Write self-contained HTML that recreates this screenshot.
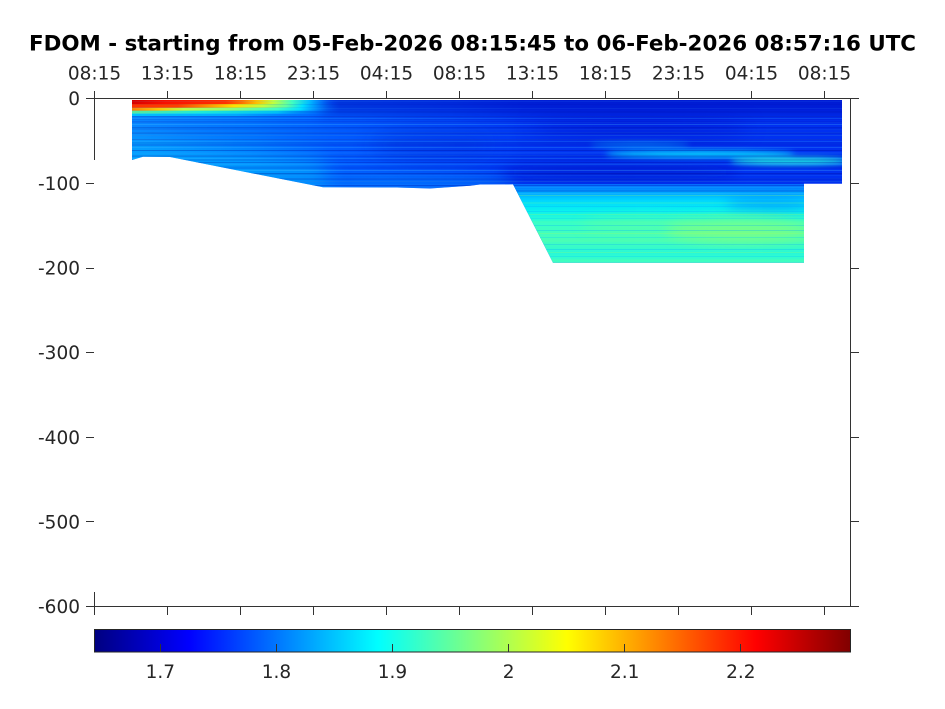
<!DOCTYPE html>
<html>
<head>
<meta charset="utf-8">
<style>
  html, body { margin: 0; padding: 0; background: #ffffff; }
  body { width: 945px; height: 709px; overflow: hidden; }
  svg { display: block; }
  text { font-family: "DejaVu Sans", "Liberation Sans", sans-serif; }
</style>
</head>
<body>
<svg width="945" height="709" viewBox="0 0 945 709" xmlns="http://www.w3.org/2000/svg">
  <defs>
    <clipPath id="dc">
      <polygon points="132,100 842,100 842,183.7 804,183.7 804,262.7 553,262.7 513,184.3 480,184.5 470,185.7 430,188.5 397,187.5 323,187.3 170,157 143,156.7 132,160"/>
    </clipPath>
    <filter id="b3" filterUnits="userSpaceOnUse" x="0" y="0" width="945" height="400"><feGaussianBlur stdDeviation="3"/></filter>
    <filter id="b6" filterUnits="userSpaceOnUse" x="0" y="0" width="945" height="400"><feGaussianBlur stdDeviation="6"/></filter>
    <filter id="b10" filterUnits="userSpaceOnUse" x="0" y="0" width="945" height="400"><feGaussianBlur stdDeviation="10"/></filter>

    <linearGradient id="gBase" gradientUnits="userSpaceOnUse" x1="132" y1="0" x2="842" y2="0">
      <stop offset="0" stop-color="#0a84ff"/>
      <stop offset="0.17" stop-color="#0072ff"/>
      <stop offset="0.28" stop-color="#005cff"/>
      <stop offset="0.45" stop-color="#0048fa"/>
      <stop offset="0.55" stop-color="#0036f2"/>
      <stop offset="1" stop-color="#0030f0"/>
    </linearGradient>
    <linearGradient id="gLower" gradientUnits="userSpaceOnUse" x1="0" y1="184" x2="0" y2="263">
      <stop offset="0" stop-color="#0060ff"/>
      <stop offset="0.1" stop-color="#00a0ff"/>
      <stop offset="0.2" stop-color="#00d4ff"/>
      <stop offset="0.33" stop-color="#08f0f0"/>
      <stop offset="0.5" stop-color="#38ffc8"/>
      <stop offset="0.7" stop-color="#48ffb8"/>
      <stop offset="0.88" stop-color="#28f8d8"/>
      <stop offset="1" stop-color="#40ffc0"/>
    </linearGradient>

    <linearGradient id="h1" gradientUnits="userSpaceOnUse" x1="132" y1="0" x2="340" y2="0">
      <stop offset="0" stop-color="#d80000"/>
      <stop offset="0.16" stop-color="#f81000"/>
      <stop offset="0.45" stop-color="#ff3000"/>
      <stop offset="0.53" stop-color="#ff7000"/>
      <stop offset="0.6" stop-color="#ffc000"/>
      <stop offset="0.68" stop-color="#c0ff40"/>
      <stop offset="0.77" stop-color="#40ffc0"/>
      <stop offset="0.85" stop-color="#00c0ff"/>
      <stop offset="1" stop-color="#0040ff" stop-opacity="0"/>
    </linearGradient>
    <linearGradient id="h2" gradientUnits="userSpaceOnUse" x1="132" y1="0" x2="340" y2="0">
      <stop offset="0" stop-color="#ff3000"/>
      <stop offset="0.22" stop-color="#ff4000"/>
      <stop offset="0.36" stop-color="#ff9000"/>
      <stop offset="0.49" stop-color="#ffe000"/>
      <stop offset="0.63" stop-color="#c0ff40"/>
      <stop offset="0.74" stop-color="#60ffa0"/>
      <stop offset="0.82" stop-color="#00e0ff"/>
      <stop offset="1" stop-color="#0060ff" stop-opacity="0"/>
    </linearGradient>
    <linearGradient id="h3" gradientUnits="userSpaceOnUse" x1="132" y1="0" x2="340" y2="0">
      <stop offset="0" stop-color="#ff8000"/>
      <stop offset="0.13" stop-color="#ffc800"/>
      <stop offset="0.25" stop-color="#c0ff40"/>
      <stop offset="0.47" stop-color="#90ff70"/>
      <stop offset="0.7" stop-color="#40ffc0"/>
      <stop offset="0.81" stop-color="#00e0ff"/>
      <stop offset="1" stop-color="#0060ff" stop-opacity="0"/>
    </linearGradient>
    <linearGradient id="h4" gradientUnits="userSpaceOnUse" x1="132" y1="0" x2="340" y2="0">
      <stop offset="0" stop-color="#60ffa0"/>
      <stop offset="0.33" stop-color="#20ffe0"/>
      <stop offset="0.7" stop-color="#00d0ff"/>
      <stop offset="1" stop-color="#0070ff" stop-opacity="0"/>
    </linearGradient>
    <linearGradient id="h5" gradientUnits="userSpaceOnUse" x1="132" y1="0" x2="340" y2="0">
      <stop offset="0" stop-color="#00c0ff"/>
      <stop offset="0.5" stop-color="#00a8ff"/>
      <stop offset="1" stop-color="#0070ff" stop-opacity="0"/>
    </linearGradient>

    <pattern id="p1" patternUnits="userSpaceOnUse" width="200" height="23">
      <rect x="0" y="1" width="200" height="1" fill="#000090" opacity="0.45"/>
      <rect x="0" y="3" width="200" height="1" fill="#40c0ff" opacity="0.35"/>
      <rect x="0" y="6" width="200" height="2" fill="#0000b0" opacity="0.3"/>
      <rect x="0" y="9" width="200" height="1" fill="#60e0ff" opacity="0.3"/>
      <rect x="0" y="12" width="200" height="1" fill="#000080" opacity="0.4"/>
      <rect x="0" y="14" width="200" height="1" fill="#3090ff" opacity="0.3"/>
      <rect x="0" y="17" width="200" height="2" fill="#0010a0" opacity="0.35"/>
      <rect x="0" y="20" width="200" height="1" fill="#50d0ff" opacity="0.35"/>
    </pattern>
    <pattern id="p2" patternUnits="userSpaceOnUse" width="200" height="31">
      <rect x="0" y="0" width="200" height="1" fill="#50d0ff" opacity="0.3"/>
      <rect x="0" y="4" width="200" height="2" fill="#000090" opacity="0.4"/>
      <rect x="0" y="8" width="200" height="1" fill="#40b0ff" opacity="0.35"/>
      <rect x="0" y="11" width="200" height="1" fill="#0000a0" opacity="0.35"/>
      <rect x="0" y="15" width="200" height="1" fill="#60e0ff" opacity="0.3"/>
      <rect x="0" y="18" width="200" height="2" fill="#000080" opacity="0.35"/>
      <rect x="0" y="23" width="200" height="1" fill="#3090ff" opacity="0.3"/>
      <rect x="0" y="26" width="200" height="1" fill="#0000a0" opacity="0.4"/>
      <rect x="0" y="29" width="200" height="1" fill="#40c8ff" opacity="0.3"/>
    </pattern>
    <pattern id="p3" patternUnits="userSpaceOnUse" width="300" height="19">
      <rect x="0" y="2" width="300" height="1" fill="#00b0ff" opacity="0.5"/>
      <rect x="0" y="5" width="300" height="1" fill="#a0ff60" opacity="0.4"/>
      <rect x="0" y="9" width="300" height="1" fill="#00c8ff" opacity="0.45"/>
      <rect x="0" y="12" width="300" height="2" fill="#60ffa0" opacity="0.3"/>
      <rect x="0" y="16" width="300" height="1" fill="#00a0ff" opacity="0.4"/>
    </pattern>

    <linearGradient id="jet" x1="0" y1="0" x2="1" y2="0">
      <stop offset="0" stop-color="#000080"/>
      <stop offset="0.125" stop-color="#0000ff"/>
      <stop offset="0.375" stop-color="#00ffff"/>
      <stop offset="0.625" stop-color="#ffff00"/>
      <stop offset="0.875" stop-color="#ff0000"/>
      <stop offset="1" stop-color="#800000"/>
    </linearGradient>
  </defs>

  <!-- Title -->
  <text x="472.5" y="50.5" text-anchor="middle" font-size="21.5" font-weight="bold" fill="#000" textLength="887" lengthAdjust="spacingAndGlyphs">FDOM - starting from 05-Feb-2026 08:15:45 to 06-Feb-2026 08:57:16 UTC</text>

  <!-- Data -->
  <g clip-path="url(#dc)">
    <rect x="128" y="96" width="720" height="172" fill="url(#gBase)"/>
    <rect x="320" y="92" width="540" height="22" fill="#0000b0" opacity="0.45" filter="url(#b6)"/>
    <polygon points="120,135 320,160 330,175 330,195 120,195" fill="#00c0ff" opacity="0.5" filter="url(#b10)"/>
    <ellipse cx="420" cy="182" rx="95" ry="8" fill="#0090ff" opacity="0.5" filter="url(#b6)"/>
    <ellipse cx="430" cy="145" rx="60" ry="16" fill="#0020d0" opacity="0.3" filter="url(#b10)"/>
    <ellipse cx="640" cy="128" rx="110" ry="12" fill="#0000c0" opacity="0.35" filter="url(#b10)"/>
    <ellipse cx="620" cy="172" rx="120" ry="9" fill="#0010c0" opacity="0.4" filter="url(#b6)"/>
    <ellipse cx="700" cy="154" rx="95" ry="3.5" fill="#00e8ff" opacity="0.9" filter="url(#b3)"/>
    <ellipse cx="790" cy="161" rx="60" ry="4" fill="#20ffe0" opacity="0.85" filter="url(#b3)"/>
    <ellipse cx="640" cy="145" rx="50" ry="2.5" fill="#00c0ff" opacity="0.6" filter="url(#b3)"/>
    <rect x="505" y="184" width="305" height="82" fill="url(#gLower)"/>
    <ellipse cx="770" cy="203" rx="45" ry="7" fill="#0080ff" opacity="0.55" filter="url(#b6)"/>
    <ellipse cx="740" cy="230" rx="75" ry="12" fill="#90ff70" opacity="0.65" filter="url(#b6)"/>
    <ellipse cx="640" cy="225" rx="60" ry="8" fill="#70ff90" opacity="0.4" filter="url(#b6)"/>
    <rect x="128" y="100" width="214" height="4" fill="url(#h1)"/>
    <rect x="128" y="104" width="214" height="3.8" fill="url(#h2)"/>
    <rect x="128" y="107.8" width="214" height="3" fill="url(#h3)"/>
    <rect x="128" y="110.8" width="214" height="2.8" fill="url(#h4)"/>
    <rect x="128" y="113.6" width="214" height="2.6" fill="url(#h5)"/>
    <rect x="128" y="116" width="720" height="80" fill="url(#p1)" opacity="0.5"/>
    <rect x="128" y="100" width="720" height="90" fill="url(#p2)" opacity="0.25"/>
    <rect x="505" y="186" width="305" height="80" fill="url(#p3)" opacity="0.6"/>
  </g>

  <!-- Axes -->
  <g stroke="#333333" stroke-width="1" fill="none" shape-rendering="crispEdges">
    <line x1="86" y1="98.5" x2="859" y2="98.5"/>
    <line x1="86" y1="606.5" x2="859" y2="606.5"/>
    <line x1="94.5" y1="91" x2="94.5" y2="160"/>
    <line x1="94.5" y1="592" x2="94.5" y2="607"/>
    <line x1="850.5" y1="98" x2="850.5" y2="607"/>
    <path d="M94.5,91V98 M167.5,91V98 M240.5,91V98 M313.5,91V98 M386.5,91V98 M459.5,91V98 M532.5,91V98 M605.5,91V98 M678.5,91V98 M751.5,91V98 M824.5,91V98"/>
    <path d="M94.5,607V615 M167.5,607V615 M240.5,607V615 M313.5,607V615 M386.5,607V615 M459.5,607V615 M532.5,607V615 M605.5,607V615 M678.5,607V615 M751.5,607V615 M824.5,607V615"/>
    <path d="M86,183.5H94 M86,268.5H94 M86,352.5H94 M86,437.5H94 M86,521.5H94"/>
    <path d="M851,98.5H859 M851,183.5H859 M851,268.5H859 M851,352.5H859 M851,437.5H859 M851,521.5H859 M851,606.5H859"/>
  </g>

  <!-- Top tick labels -->
  <g font-size="18.5" fill="#262626" text-anchor="middle">
    <text x="94.5" y="79.5">08:15</text>
    <text x="167.5" y="79.5">13:15</text>
    <text x="240.5" y="79.5">18:15</text>
    <text x="313.5" y="79.5">23:15</text>
    <text x="386.5" y="79.5">04:15</text>
    <text x="459.5" y="79.5">08:15</text>
    <text x="532.5" y="79.5">13:15</text>
    <text x="605.5" y="79.5">18:15</text>
    <text x="678.5" y="79.5">23:15</text>
    <text x="751.5" y="79.5">04:15</text>
    <text x="824.5" y="79.5">08:15</text>
  </g>

  <!-- Y tick labels -->
  <g font-size="18.5" fill="#262626" text-anchor="end">
    <text x="80" y="105.2">0</text>
    <text x="80" y="189.9">-100</text>
    <text x="80" y="274.5">-200</text>
    <text x="80" y="359.2">-300</text>
    <text x="80" y="443.9">-400</text>
    <text x="80" y="528.5">-500</text>
    <text x="80" y="613.2">-600</text>
  </g>

  <!-- Colorbar -->
  <rect x="94.5" y="629.5" width="756" height="22.5" fill="url(#jet)" stroke="#262626" stroke-width="1"/>
  <g stroke="#333333" stroke-width="1" shape-rendering="crispEdges">
    <path d="M160.5,644V652 M276.5,644V652 M392.5,644V652 M508.5,644V652 M624.5,644V652 M740.5,644V652"/>
  </g>
  <g font-size="18.5" fill="#262626" text-anchor="middle">
    <text x="160.3" y="678">1.7</text>
    <text x="276.4" y="678">1.8</text>
    <text x="392.5" y="678">1.9</text>
    <text x="508.6" y="678">2</text>
    <text x="624.7" y="678">2.1</text>
    <text x="740.8" y="678">2.2</text>
  </g>
</svg>
</body>
</html>
